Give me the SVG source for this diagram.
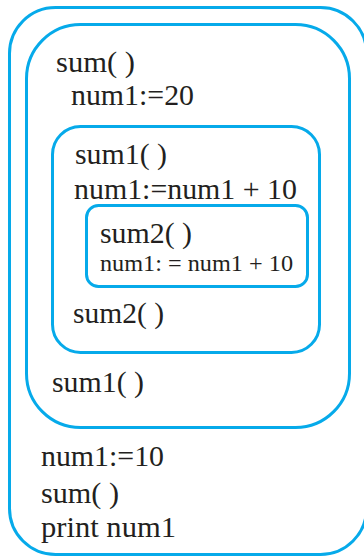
<svg xmlns="http://www.w3.org/2000/svg" width="364" height="558" viewBox="0 0 364 558">
<style>
.box{fill:none;stroke:#06aaea;stroke-width:3}
.t{font-family:"Liberation Serif","Times New Roman",serif;font-size:29px;fill:#231f20}
.s{font-family:"Liberation Serif","Times New Roman",serif;font-size:24px;fill:#231f20}
</style>
<rect width="364" height="558" fill="#ffffff"/>
<g id="main">
<rect class="box" x="9.5" y="7.5" width="357" height="547" rx="46" ry="46"/>
<text class="t" x="41" y="466" textLength="123" lengthAdjust="spacingAndGlyphs">num1:=10</text>
<text class="t" x="41" y="503" textLength="78" lengthAdjust="spacingAndGlyphs">sum( )</text>
<text class="t" x="41" y="537" textLength="135" lengthAdjust="spacingAndGlyphs">print num1</text>
</g>
<g id="sum">
<rect class="box" x="26.5" y="24.5" width="323" height="403" rx="54" ry="54"/>
<text class="t" x="56" y="72" textLength="79" lengthAdjust="spacingAndGlyphs">sum( )</text>
<text class="t" x="71" y="105" textLength="123" lengthAdjust="spacingAndGlyphs">num1:=20</text>
<text class="t" x="52" y="392" textLength="92" lengthAdjust="spacingAndGlyphs">sum1( )</text>
</g>
<g id="sum1">
<rect class="box" x="52.5" y="126.5" width="267" height="226" rx="28" ry="28"/>
<text class="t" x="75" y="164" textLength="92" lengthAdjust="spacingAndGlyphs">sum1( )</text>
<text class="t" x="74" y="199" textLength="223" lengthAdjust="spacingAndGlyphs">num1:=num1 + 10</text>
<text class="t" x="73" y="323" textLength="91" lengthAdjust="spacingAndGlyphs">sum2( )</text>
</g>
<g id="sum2">
<rect class="box" x="86.5" y="205.5" width="221" height="81" rx="12" ry="12"/>
<text class="t" x="100" y="243" textLength="92" lengthAdjust="spacingAndGlyphs">sum2( )</text>
<text class="s" x="100" y="271" textLength="193" lengthAdjust="spacingAndGlyphs">num1: = num1 + 10</text>
</g>
<g id="connectors"></g>
</svg>
